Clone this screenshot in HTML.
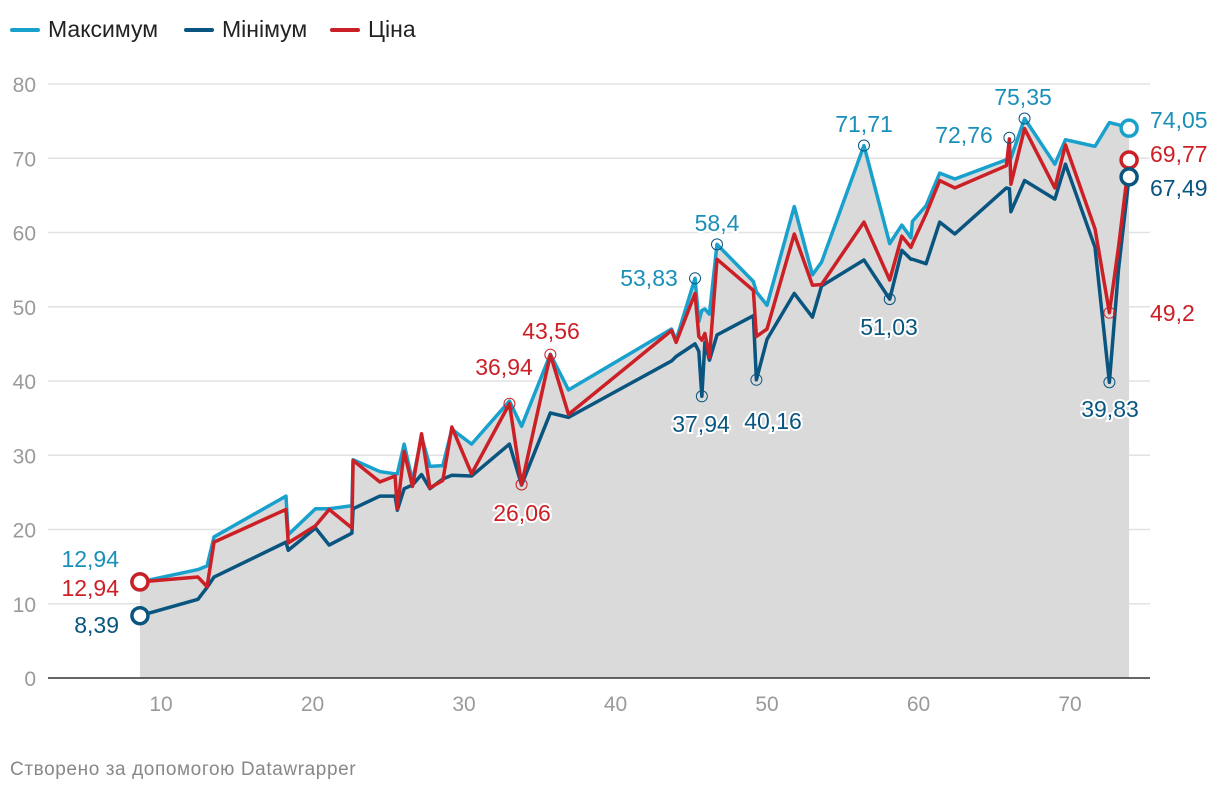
<!DOCTYPE html>
<html><head><meta charset="utf-8"><style>
body{margin:0;background:#fff;font-family:"Liberation Sans",sans-serif;}
#wrap{position:relative;width:1220px;height:794px;}
.leg{position:absolute;top:16px;font-size:23px;color:#222;display:flex;align-items:center;}
.leg span.sw{display:inline-block;width:30px;height:4px;border-radius:2px;margin-right:8px;}
#credit{position:absolute;left:10px;top:759px;font-size:19px;letter-spacing:0.6px;color:#888;}
</style></head><body>
<div id="wrap">
<div class="leg" style="left:10px"><span class="sw" style="background:#18a1cd"></span>Максимум</div>
<div class="leg" style="left:184px"><span class="sw" style="background:#09557f"></span>Мінімум</div>
<div class="leg" style="left:330px"><span class="sw" style="background:#cc2027"></span>Ціна</div>
<svg id="svg" width="1220" height="794" style="position:absolute;left:0;top:0"></svg>
<div id="credit">Створено за допомогою Datawrapper</div>
</div>
<script>
const xs=[8.61,12.44,13.04,13.5,18.25,18.4,20.2,21.1,22.6,22.68,24.45,25.45,25.6,26.05,26.6,27.2,27.75,28.6,29.2,30.5,33.0,33.8,35.7,36.9,43.7,44.0,45.25,45.5,45.7,45.9,46.2,46.7,49.1,49.3,50.0,51.8,53.0,53.6,56.4,58.1,58.9,59.5,59.6,60.5,61.4,62.4,65.8,66.0,66.1,67.0,69.0,69.7,71.65,72.6,73.2,73.9];
const maxV=[12.94,14.6,15.1,19.0,24.5,19.3,22.8,22.8,23.2,29.4,27.8,27.5,27.5,31.5,26.5,32.5,28.5,28.6,33.5,31.5,37.3,33.9,43.6,38.8,47.0,45.5,53.83,48,49.5,49.7,49.0,58.4,53.4,52.0,50.2,63.5,54.3,56,71.71,58.5,61,59.3,61.5,63.6,68.0,67.2,69.8,70,70,75.35,69.2,72.5,71.6,74.8,74.5,74.05];
const minV=[8.39,10.6,12.2,13.6,18.3,17.2,20.2,17.9,19.5,22.8,24.5,24.5,22.6,25.5,26.0,27.4,25.5,26.8,27.3,27.2,31.5,26.0,35.7,35.1,42.7,43.3,45.0,44,37.94,45.2,42.8,46.2,48.8,40.16,45.6,51.8,48.6,52.8,56.3,51.03,57.6,56.4,56.4,55.8,61.4,59.8,66.0,65.9,62.8,67.0,64.5,69.2,58.0,39.83,55,67.49];
const priceV=[12.94,13.6,12.3,18.3,22.7,18.2,20.5,22.7,20.2,29.3,26.4,27.2,22.8,30.5,25.8,32.9,25.6,26.6,33.8,27.5,36.94,26.06,43.56,35.5,46.8,45.2,51.8,46,45.5,46.4,43.2,56.4,52.2,46.0,47.0,59.8,52.9,53.0,61.4,53.6,59.5,58.0,58.5,62.5,67.0,66.0,69.0,72.6,66.5,74.0,66.0,71.8,60.5,49.2,58,69.77];
const yTicks=[0,10,20,30,40,50,60,70,80];
const xTicks=[10,20,30,40,50,60,70];
const sx=v=>9.5+v*15.15, sy=v=>678-v*7.425;
const svg=document.getElementById('svg');const NS='http://www.w3.org/2000/svg';
function mk(t,a,p){const e=document.createElementNS(NS,t);for(const k in a)e.setAttribute(k,a[k]);(p||svg).appendChild(e);return e;}
yTicks.forEach(t=>{
 if(t>0){const g=mk('line',{x1:48,x2:1150,y1:sy(t),y2:sy(t),stroke:'#e2e2e2','stroke-width':1.5});
 
 }
 const l=mk('text',{x:36,y:sy(t)+8,'text-anchor':'end','font-size':21,fill:'#9a9a9a'});l.textContent=t;
 
 
});
let d='M'+sx(xs[0])+','+sy(0);xs.forEach((x,i)=>d+='L'+sx(x)+','+sy(maxV[i]));d+='L'+sx(xs[xs.length-1])+','+sy(0)+'Z';
const ar=mk('path',{d:d,fill:'#dadada'});


const ax=mk('line',{x1:48,x2:1150,y1:sy(0),y2:sy(0),stroke:'#333','stroke-width':1.5});


xTicks.forEach(t=>{const l=mk('text',{x:sx(t),y:711,'text-anchor':'middle','font-size':21,fill:'#9a9a9a'});l.textContent=t;
 
 });
function line(vals,col,name){let p='';xs.forEach((x,i)=>p+=(i?'L':'M')+sx(x)+','+sy(vals[i]));
 const e=mk('path',{d:p,fill:'none',stroke:col,'stroke-width':3.5,'stroke-linejoin':'round'});
 
 }
line(maxV,'#18a1cd','max-line');line(minV,'#09557f','min-line');line(priceV,'#cc2027','price-line');
function ring(i,vals,col,big){const c=mk('circle',{cx:sx(xs[i]),cy:sy(vals[i]),r:big?8:5.5,fill:big?'#fff':'none',stroke:col,'stroke-width':big?3.5:1});
 
 }
function lab(txt,x,y,col,anchor){const t=mk('text',{x:x,y:y,'text-anchor':anchor||'middle','font-size':23,fill:col,stroke:'#fff','stroke-width':4,'paint-order':'stroke'});t.textContent=txt;
 
 }
const cM='#1a8fb8',cN='#09557f',cP='#cc2027';
const last=xs.length-1;
ring(0,maxV,cM,true);ring(0,priceV,cP,true);ring(0,minV,cN,true);
ring(last,maxV,'#18a1cd',true);ring(last,priceV,cP,true);ring(last,minV,cN,true);
[26,31,38,49].forEach(i=>ring(i,maxV,cN,false));
ring(47,maxV.map((v,i)=>i==47?72.76:v),cN,false);
[28,33,39,53].forEach(i=>ring(i,minV,cN,false));
[20,21,22,53].forEach(i=>ring(i,priceV,cP,false));
lab('12,94',119,567,cM,'end');lab('12,94',119,596,cP,'end');lab('8,39',119,633,cN,'end');
lab('74,05',1150,128,cM,'start');lab('69,77',1150,162,cP,'start');lab('67,49',1150,196,cN,'start');
lab('36,94',504,375,cP);lab('43,56',551,339,cP);lab('26,06',522,521,cP);
lab('53,83',649,286,cM);lab('58,4',717,231,cM);lab('37,94',701,432,cN);lab('40,16',773,429,cN);
lab('71,71',864,132,cM);lab('51,03',889,335,cN);lab('72,76',964,143,cM);lab('75,35',1023,105,cM);
lab('49,2',1150,321,cP,'start');lab('39,83',1110,417,cN);
</script>
</body></html>
